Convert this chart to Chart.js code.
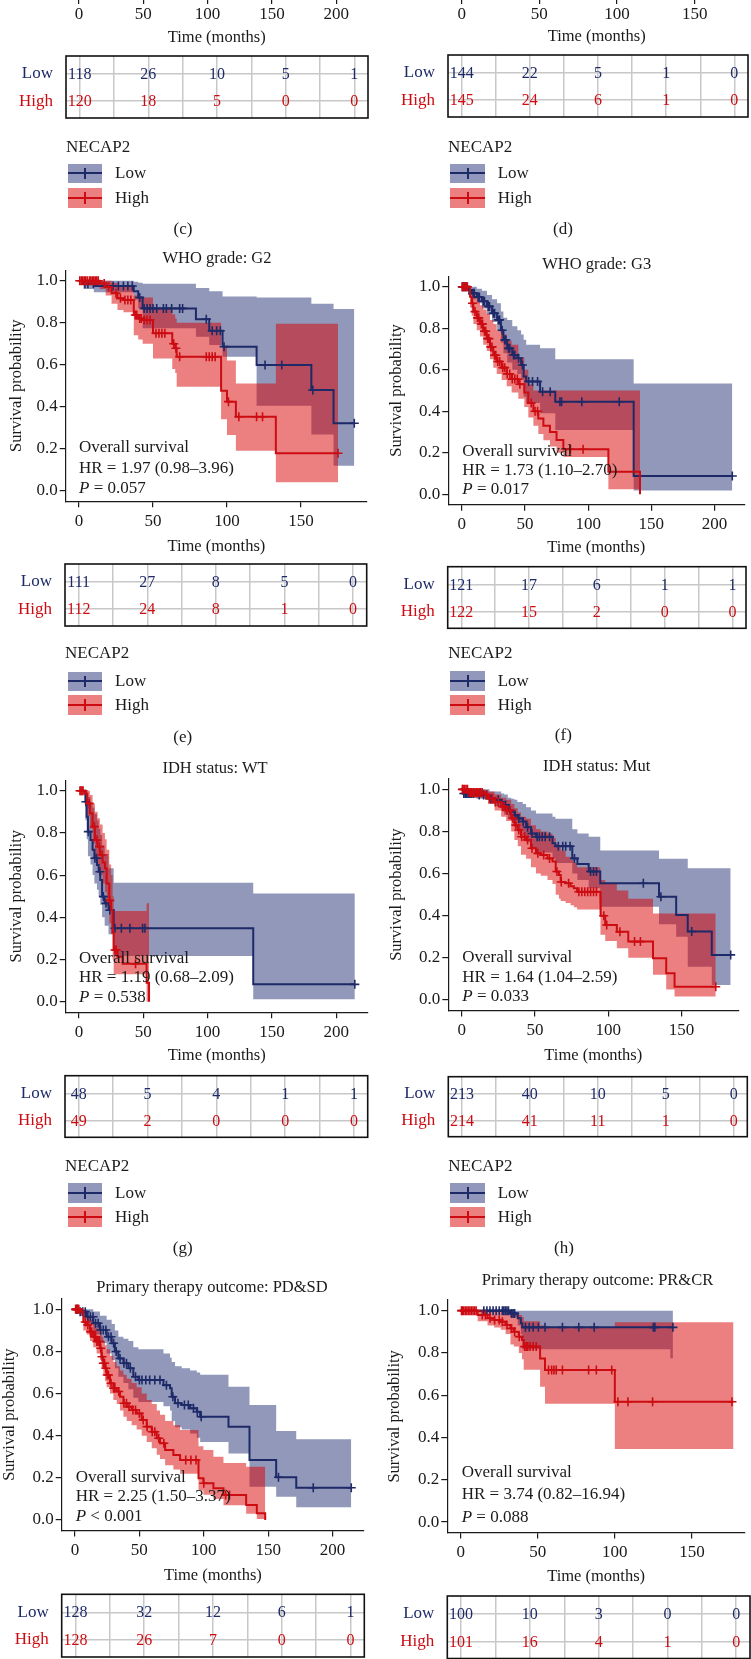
<!DOCTYPE html>
<html><head><meta charset="utf-8">
<script src="https://cdn.jsdelivr.net/npm/chart.js@4.4.1/dist/chart.umd.min.js"></script>
<style>
html,body{margin:0;padding:0;background:#fff}
body{position:relative;width:751px;height:1659px;overflow:hidden;font-family:"Liberation Serif","Times New Roman",serif;color:#1a1a1a}
canvas{position:absolute}
.t{position:absolute;white-space:nowrap;font-size:17px;line-height:20px;height:20px}
.lg{position:absolute}
.lg .h{position:absolute;left:0;right:0;top:50%;height:2px;margin-top:-1px}
.lg .v{position:absolute;left:50%;width:2px;margin-left:-1px;top:4px;bottom:4px}
</style></head><body>
<script>
// ---------- tick / table labels ----------
const yTicks = [0, 0.2, 0.4, 0.6, 0.8, 1.0];
const xTicks150 = [0, 50, 100, 150];
const xTicks200 = [0, 50, 100, 150, 200];
const riskTimes = [0, 50, 100, 150, 200];
const tableGrid = [0, 25, 50, 75, 100, 125, 150, 175, 200];

// ---------- numbers at risk ----------
const cRiskLow = [118, 26, 10, 5, 1], cRiskHigh = [120, 18, 5, 0, 0];
const dRiskLow = [144, 22, 5, 1, 0], dRiskHigh = [145, 24, 6, 1, 0];
const eRiskLow = [111, 27, 8, 5, 0], eRiskHigh = [112, 24, 8, 1, 0];
const fRiskLow = [121, 17, 6, 1, 1], fRiskHigh = [122, 15, 2, 0, 0];
const gRiskLow = [48, 5, 4, 1, 1],   gRiskHigh = [49, 2, 0, 0, 0];
const hRiskLow = [213, 40, 10, 5, 0], hRiskHigh = [214, 41, 11, 1, 0];
const iRiskLow = [128, 32, 12, 6, 1], iRiskHigh = [128, 26, 7, 0, 0];
const jRiskLow = [100, 10, 3, 0, 0], jRiskHigh = [101, 16, 4, 1, 0];

// ---------- (e) WHO grade G2 ----------
const eLowT = [0,3,10,37,40,43,79,88,97,120,157,172,186];
const eLowS = [1,0.985,0.975,0.95,0.92,0.868,0.817,0.762,0.686,0.598,0.479,0.321,0.321];
const eLowU = [1,1,1,0.995,0.99,0.985,0.965,0.95,0.925,0.92,0.89,0.865,0.865];
const eLowL = [1,0.96,0.945,0.91,0.87,0.773,0.733,0.694,0.638,0.405,0.268,0.119,0.119];
const eLowC = [4,6,9.7,23,26.6,30,33,36,41,44,46,48,50,52.5,57,59,62.6,68,70,86,90,93,95.5,98,125.7,137,158,186];
const eHighT = [0,14,18,22,26,30,37,40,43,50,63,65,66,96,100,106,133,175];
const eHighS = [1,0.987,0.97,0.94,0.916,0.908,0.837,0.82,0.813,0.75,0.70,0.678,0.638,0.476,0.424,0.352,0.178,0.178];
const eHighU = [1,1,1,0.99,0.98,0.975,0.93,0.925,0.92,0.87,0.84,0.82,0.80,0.68,0.62,0.51,0.795,0.795];
const eHighL = [1,0.96,0.93,0.89,0.86,0.85,0.74,0.72,0.70,0.63,0.58,0.56,0.495,0.34,0.265,0.19,0.04,0.04];
const eHighC = [0.5,1.5,2.5,3.5,4.5,5.5,7,8,9,10,11,12,13,17,20,25,28,31,33,35,38,39,41,42,44,46,48,52,54,56,58,64,65.5,68,86,88,90,92,101,108,120,124,175];

// ---------- (f) WHO grade G3 ----------
const fLowT = [0,5,8,12,16,20,24,28,31,33,36,40,44,47,49,51,62,74,136,214];
const fLowS = [1,0.984,0.968,0.95,0.93,0.905,0.872,0.84,0.79,0.743,0.703,0.671,0.655,0.623,0.567,0.543,0.494,0.446,0.088,0.088];
const fLowU = [1,1,1,0.99,0.98,0.96,0.94,0.92,0.88,0.85,0.84,0.81,0.79,0.77,0.745,0.72,0.703,0.65,0.534,0.534];
const fLowL = [1,0.96,0.94,0.92,0.895,0.865,0.83,0.79,0.73,0.68,0.635,0.6,0.58,0.55,0.47,0.44,0.39,0.31,0.018,0.018];
const fLowC = [0.5,1,2,3,4,6,9,10,13,14,17,18,21,22,25,26,29,30,32,34,35,37,38,41,42,45,48,53,56,60,64,70,77.7,79,95,124.6,214];
const fHighT = [0,6.6,7.9,9.2,11.9,14.5,17,19.8,22.4,25,27.7,31.6,35.6,39.5,44.8,49.5,52.7,56.7,60.6,64.6,69.8,75,80.4,116,141];
const fHighS = [1,0.952,0.92,0.88,0.85,0.82,0.785,0.75,0.71,0.67,0.64,0.61,0.58,0.555,0.53,0.49,0.44,0.40,0.365,0.33,0.30,0.262,0.217,0.109,0];
const fHighU = [1,0.99,0.97,0.95,0.94,0.91,0.89,0.87,0.84,0.82,0.79,0.77,0.74,0.72,0.66,0.6,0.53,0.5,0.5,0.5,0.5,0.5,0.5,0.5,0.5];
const fHighL = [1,0.9,0.86,0.82,0.79,0.76,0.72,0.69,0.65,0.61,0.58,0.55,0.52,0.49,0.46,0.42,0.37,0.33,0.29,0.26,0.23,0.2,0.18,0.024,0.024];
const fHighC = [0.5,1.5,2.5,3.5,4.5,8.5,10.5,12.5,13.5,15.5,16.5,18,19,20.5,21.5,23,24,26,27,28.5,30,32.5,34,36,38,40,42,44,46,55,58,60,86,96];

// ---------- (g) IDH WT ----------
const gLowT = [0,5,6,7,9,10.6,12,14,15.3,16.6,18,20,23,27,135.5,214.5];
const gLowS = [1,0.948,0.877,0.806,0.766,0.72,0.68,0.648,0.616,0.577,0.498,0.466,0.434,0.348,0.082,0.082];
const gLowU = [1,1,0.99,0.97,0.94,0.92,0.89,0.86,0.82,0.79,0.74,0.7,0.632,0.564,0.513,0.513];
const gLowL = [1,0.86,0.77,0.69,0.65,0.6,0.56,0.53,0.5,0.46,0.4,0.36,0.32,0.216,0.011,0.011];
const gLowC = [5.4,7.3,12.4,13.7,16.3,19,21,24,28,33,39.6,49.5,51.3,214.5];
const gHighT = [0,4.7,6.5,8.5,10.6,12.4,14.5,16.3,18.4,20.2,21.5,23.6,25,26.2,27,30,34,52.6,54.5];
const gHighS = [1,0.987,0.94,0.893,0.83,0.766,0.735,0.695,0.66,0.632,0.56,0.48,0.434,0.33,0.245,0.213,0.18,0.09,0];
const gHighU = [1,1,1,0.98,0.94,0.9,0.87,0.84,0.8,0.77,0.72,0.65,0.6,0.5,0.43,0.43,0.43,0.466,0.466];
const gHighL = [1,0.95,0.88,0.82,0.75,0.68,0.64,0.6,0.56,0.52,0.45,0.37,0.32,0.2,0.13,0.13,0.13,0.0,0];
const gHighC = [0.8,1.6,2.4,3.2,8,12,14,16,18,24,28,29,44];

// ---------- (h) IDH Mut ----------
const hLowT = [0,1,10,19,22.5,27,29,31.5,33.8,36,38,41.7,44,47.3,50.7,62,64,75.5,79,86.7,94.6,134.7,146.4,154.3,170.7,183.6];
const hLowS = [1,0.98,0.973,0.957,0.95,0.94,0.926,0.90,0.894,0.878,0.862,0.847,0.82,0.79,0.775,0.744,0.73,0.672,0.645,0.61,0.554,0.49,0.403,0.325,0.214,0.214];
const hLowU = [1,1,1,0.99,0.99,0.98,0.975,0.96,0.955,0.95,0.94,0.93,0.915,0.9,0.885,0.87,0.86,0.81,0.79,0.775,0.71,0.67,0.67,0.625,0.625,0.625];
const hLowL = [1,0.96,0.955,0.93,0.92,0.9,0.88,0.86,0.85,0.82,0.8,0.78,0.75,0.72,0.7,0.67,0.65,0.6,0.57,0.53,0.443,0.36,0.3,0.158,0.071,0.071];
const hLowC = [1.5,2.5,3.5,4.5,5.5,6.5,8,12,15,17,20,25,30,33,36.5,39,42,45,48,51.5,53,55,57,60,66,69,71,74,77,88,90,92,124,136,157,183.6];
const hHighT = [0,4.5,15.8,18,22.5,27,30.4,33.8,36,38.3,40.5,44,47.3,50.7,54,58.6,62,64.2,66.4,67.6,71,74.3,76.6,78.8,94.6,95,98,105.9,113.7,130.6,139.6,145.3,173.4];
const hHighS = [1,0.985,0.975,0.957,0.94,0.918,0.9,0.862,0.83,0.807,0.775,0.76,0.72,0.696,0.688,0.672,0.657,0.61,0.593,0.56,0.554,0.54,0.53,0.514,0.483,0.40,0.356,0.324,0.277,0.198,0.127,0.063,0.063];
const hHighU = [1,1,0.995,0.99,0.975,0.96,0.95,0.93,0.91,0.89,0.87,0.86,0.83,0.81,0.8,0.79,0.77,0.74,0.73,0.71,0.68,0.665,0.65,0.63,0.6,0.57,0.55,0.52,0.48,0.41,0.41,0.41,0.41];
const hHighL = [1,0.96,0.95,0.93,0.9,0.87,0.85,0.8,0.76,0.73,0.69,0.67,0.63,0.6,0.59,0.57,0.55,0.5,0.48,0.47,0.46,0.45,0.44,0.43,0.40,0.31,0.28,0.245,0.2,0.12,0.05,0.016,0.016];
const hHighC = [0.5,1,2,3,4,5,6,7,8,9,10,11,12,13,14,17,19,21,23,25,28,29,31,33,35,37,39,41,43,45,48,52,56,60,65,68,73,80,82,84,86,88,90,92,97,99,108,118,122,173.4];

// ---------- (i) Primary therapy outcome PD&SD ----------
const iLowT = [0,3.9,9,14.2,19.4,24.6,28.5,31,33.7,37.6,41.5,45.3,49.2,68.7,73.8,75.1,77.7,82.9,89.4,94.6,97.2,119.2,135.5,156.2,171.8,214.5];
const iLowS = [1,0.989,0.965,0.934,0.902,0.87,0.839,0.8,0.767,0.744,0.72,0.68,0.665,0.64,0.625,0.585,0.554,0.546,0.53,0.514,0.49,0.443,0.285,0.203,0.153,0.153];
const iLowU = [1,1,1,0.99,0.97,0.95,0.93,0.9,0.87,0.86,0.85,0.82,0.81,0.79,0.77,0.75,0.73,0.72,0.71,0.7,0.69,0.633,0.546,0.422,0.383,0.383];
const iLowL = [1,0.97,0.93,0.88,0.84,0.79,0.76,0.72,0.68,0.65,0.62,0.58,0.56,0.54,0.52,0.47,0.44,0.43,0.41,0.39,0.37,0.316,0.158,0.11,0.06,0.06];
const iLowC = [1,2,4,6,8,10,12,14,16,18,20,22,24,26,28,30,32,35,38,40,43,47,50,52,55,58,62,66,71,76,80,85,88,92,95,98,158,185,214.5];
const iHighT = [0,3.9,6.5,9.1,11.7,14.2,16.8,19.4,20.7,22,23.3,24.6,27.2,29.8,32.4,35,37.6,40.2,44,47.9,51.8,55.7,59.6,63.5,66,70,76.4,81.6,95.9,99.7,107.5,115.3,132.9,141.2,147.7];
const iHighS = [1,0.989,0.94,0.926,0.894,0.87,0.847,0.815,0.775,0.744,0.72,0.688,0.649,0.625,0.61,0.585,0.554,0.538,0.522,0.506,0.475,0.443,0.419,0.388,0.364,0.332,0.309,0.285,0.198,0.174,0.15,0.119,0.071,0.032,0];
const iHighU = [1,1,0.99,0.97,0.95,0.93,0.91,0.89,0.87,0.85,0.83,0.81,0.78,0.75,0.73,0.71,0.69,0.67,0.65,0.63,0.6,0.57,0.55,0.52,0.5,0.47,0.45,0.427,0.35,0.332,0.30,0.27,0.253,0.253,0.253];
const iHighL = [1,0.97,0.9,0.88,0.85,0.82,0.79,0.76,0.72,0.69,0.66,0.63,0.6,0.57,0.55,0.52,0.49,0.47,0.45,0.43,0.4,0.37,0.34,0.31,0.29,0.26,0.24,0.22,0.14,0.12,0.1,0.07,0.03,0.005,0];
const iHighC = [0.5,1,1.5,2,2.5,3,8,10,12,13,15,16,17,18,19,20,21,22,23,24,25,26,28,30,31,34,38,40,42,45,47,50,53,56,60,62,65,69,86,90,94,100,117,120];

// ---------- (j) Primary therapy outcome PR&CR ----------
const jLowT = [0,32,37,39,40,136,137.7];
const jLowS = [1,0.987,0.964,0.94,0.921,0.921,0.921];
const jLowU = [1,1,1,1,1,1,1];
const jLowL = [1,0.97,0.93,0.89,0.817,0.775,0.775];
const jLowC = [15,17,19,21,23,25,27,28,29,30,31,33,34,35,42,44.5,47,50.4,54.7,66,76.6,86.6,125,126,137.7];
const jHighT = [0,11,17.4,21.7,26,29.1,32.3,34.5,37.7,39.8,40.9,51.5,54.7,100,177];
const jHighS = [1,0.98,0.964,0.956,0.948,0.932,0.916,0.9,0.877,0.861,0.83,0.774,0.719,0.569,0.569];
const jHighU = [1,1,1,1,1,1,0.995,0.99,0.98,0.97,0.95,0.93,0.92,0.945,0.945];
const jHighL = [1,0.95,0.93,0.92,0.91,0.89,0.84,0.83,0.8,0.77,0.72,0.64,0.56,0.345,0.345];
const jHighC = [0.5,1,2,3,4,5,6,7,8,9,10,14,16,19,22,25,27,30,33,35,38,41.5,42.5,43.5,45,47,49,57,59,60.5,62,66,83,88,98,102,108.5,124.5,176];

// ---------- styling ----------
const NAVY = '#1e2a68', RED = '#cc0c12', INK = '#1a1a1a';
const BAND_LOW = 'rgba(36,49,118,0.5)', BAND_HIGH = 'rgba(218,0,0,0.5)';
const BOX_LOW = 'rgb(145,152,187)', BOX_HIGH = 'rgb(236,128,128)';
const FONT = '"Liberation Serif", "Times New Roman", serif';
Chart.defaults.font.family = FONT;
Chart.defaults.font.size = 17;
Chart.defaults.color = INK;
const TITLE_FONT = {size: 16.5};

function steps(T, V) {
  const p = [];
  for (let i = 0; i < T.length; i++) {
    if (i > 0) p.push({x: T[i], y: V[i - 1]});
    p.push({x: T[i], y: V[i]});
  }
  return p;
}
function at(T, V, t) {
  let v = V[0];
  for (let i = 0; i < T.length; i++) if (T[i] <= t) v = V[i];
  return v;
}
function addCanvas(left, top, w, h) {
  const c = document.createElement('canvas');
  c.width = w; c.height = h;
  c.style.left = left + 'px'; c.style.top = top + 'px';
  c.style.width = w + 'px'; c.style.height = h + 'px';
  document.body.appendChild(c);
  return c;
}
function text(html, x, y, align, extra) {
  const d = document.createElement('div');
  d.className = 't';
  d.innerHTML = html;
  d.style.top = (y - 10) + 'px';
  if (align === 'center') { d.style.left = x + 'px'; d.style.transform = 'translateX(-50%)'; }
  else d.style.left = x + 'px';
  if (extra) d.style.cssText += extra;
  document.body.appendChild(d);
}
function axisStyle(tl) {
  return {
    grid: {display: true, drawOnChartArea: false, drawTicks: true, tickLength: tl || 6, color: INK, lineWidth: 1.2},
    border: {display: true, color: INK, width: 1.2}
  };
}

function kmChart(cfg) {
  const top = Math.floor(cfg.canvasTop);
  const bottom = Math.round(cfg.xTitleY + 9.9);
  const W = cfg.colW, H = bottom - top;
  const c = addCanvas(cfg.colL, top, W, H);
  const lo = cfg.low, hi = cfg.high;
  const band = (T, V, col, fill, order) => ({data: steps(T, V), fill: fill, backgroundColor: col,
    borderColor: 'rgba(0,0,0,0)', borderWidth: 0, pointRadius: 0, tension: 0, order: order});
  const line = (g, col, order) => ({data: steps(g.T, g.S), fill: false, borderColor: col, borderWidth: 2,
    pointRadius: 0, tension: 0, order: order});
  const cens = (g, col, order) => ({data: g.C.map(t => ({x: t, y: at(g.T, g.S, t)})), showLine: false,
    pointStyle: 'cross', pointRadius: 4.5, pointBorderWidth: 1.6, borderColor: col, pointBorderColor: col,
    backgroundColor: col, order: order});
  const ax = axisStyle(), ay = axisStyle();
  new Chart(c, {
    type: 'line',
    data: {datasets: [
      band(lo.T, lo.U, BAND_LOW, '+1', 8), band(lo.T, lo.L, BAND_LOW, false, 8),
      band(hi.T, hi.U, BAND_HIGH, '+1', 6), band(hi.T, hi.L, BAND_HIGH, false, 6),
      line(lo, NAVY, 3), cens(lo, NAVY, 3),
      line(hi, RED, 1), cens(hi, RED, 1)
    ]},
    options: {
      responsive: false, animation: false, events: [], devicePixelRatio: 1,
      layout: {padding: {left: 0, top: cfg.plotT - top, right: cfg.colL + W - cfg.plotR, bottom: 0}},
      plugins: {legend: {display: false}, tooltip: {enabled: false}},
      scales: {
        x: {type: 'linear', min: cfg.xmin, max: cfg.xmax, grid: ax.grid, border: ax.border,
          afterBuildTicks: s => { s.ticks = cfg.xticks.map(v => ({value: v})); },
          afterFit: s => { s.height = bottom - cfg.plotB; },
          ticks: {padding: 4, color: INK, autoSkip: false, maxRotation: 0, callback: v => String(v)},
          title: {display: true, text: 'Time (months)', color: INK, font: TITLE_FONT, padding: {top: 0, bottom: 0}}},
        y: {type: 'linear', min: -0.05, max: 1.05, grid: ay.grid, border: ay.border,
          afterBuildTicks: s => { s.ticks = yTicks.map(v => ({value: v})); },
          afterFit: s => { s.width = cfg.plotL - cfg.colL; },
          ticks: {padding: 2, color: INK, callback: v => Number(v).toFixed(1)},
          title: {display: true, text: 'Survival probability', color: INK, font: TITLE_FONT,
            padding: {top: Math.max(0, cfg.yTitleX - cfg.colL - 9.9), bottom: 0}}}
      }
    }
  });
  text(cfg.title, cfg.titleX, cfg.titleY, 'center', 'font-size:16.5px');
  text('Overall survival', cfg.hrX, cfg.hrY[0], 'left');
  text(cfg.hr, cfg.hrX, cfg.hrY[1], 'left');
  text(cfg.p, cfg.hrX, cfg.hrY[2], 'left');
}

const riskTextPlugin = {
  id: 'riskText',
  afterDatasetsDraw(chart) {
    const ctx = chart.ctx;
    ctx.save();
    ctx.font = '16px ' + FONT;
    ctx.textAlign = 'center';
    ctx.textBaseline = 'middle';
    chart.data.datasets.forEach((ds, di) => {
      const meta = chart.getDatasetMeta(di);
      ctx.fillStyle = ds.textColor;
      meta.data.forEach((pt, i) => ctx.fillText(String(ds.data[i].v), pt.x, pt.y + 1));
    });
    const a = chart.chartArea;
    ctx.strokeStyle = '#111';
    ctx.lineWidth = 1.6;
    ctx.strokeRect(a.left, a.top, a.right - a.left, a.bottom - a.top);
    ctx.restore();
  }
};

function riskTable(cfg) {
  const M = 36;
  const top = Math.floor(cfg.boxT) - M;
  const H = Math.ceil(cfg.boxB) + M - top;
  const c = addCanvas(cfg.colL, top, cfg.colW, H);
  new Chart(c, {
    type: 'line',
    data: {datasets: [
      {data: riskTimes.map((t, i) => ({x: t, y: 1, v: cfg.low[i]})), showLine: false, pointRadius: 0, textColor: NAVY},
      {data: riskTimes.map((t, i) => ({x: t, y: 0, v: cfg.high[i]})), showLine: false, pointRadius: 0, textColor: RED}
    ]},
    options: {
      responsive: false, animation: false, events: [], devicePixelRatio: 1,
      layout: {padding: {left: 0, top: cfg.boxT - top, bottom: top + H - cfg.boxB, right: cfg.colL + cfg.colW - cfg.boxR}},
      plugins: {legend: {display: false}, tooltip: {enabled: false}},
      scales: {
        x: {type: 'linear', min: -10, max: 210,
          afterBuildTicks: s => { s.ticks = tableGrid.map(v => ({value: v})); },
          afterFit: s => { s.height = 0; },
          ticks: {display: false}, grid: {color: '#c8c8c8', lineWidth: 1.5, drawTicks: false}, border: {display: false}},
        y: {type: 'linear', min: -0.62, max: 1.65,
          afterBuildTicks: s => { s.ticks = [{value: 0}, {value: 1}]; },
          afterFit: s => { s.width = cfg.boxL - cfg.colL; },
          ticks: {padding: 13, font: {size: 17}, callback: v => (v === 1 ? 'Low' : 'High'),
            color: ctx => (ctx.tick && ctx.tick.value === 1 ? NAVY : RED)},
          grid: {color: '#c8c8c8', lineWidth: 1.5, drawTicks: false}, border: {display: false}}
      }
    },
    plugins: [riskTextPlugin]
  });
}

function topAxis(cfg) {
  const top = -40, bottom = Math.round(cfg.titleY + 9.9);
  const H = bottom - top;
  const c = addCanvas(cfg.colL, top, cfg.colW, H);
  const ax = axisStyle(7);
  new Chart(c, {
    type: 'line', data: {datasets: []},
    options: {
      responsive: false, animation: false, events: [], devicePixelRatio: 1,
      layout: {padding: {left: cfg.plotL - cfg.colL, right: cfg.colL + cfg.colW - cfg.plotR, top: 5, bottom: 0}},
      plugins: {legend: {display: false}, tooltip: {enabled: false}},
      scales: {
        x: {type: 'linear', min: cfg.xmin, max: cfg.xmax, grid: ax.grid, border: ax.border,
          afterBuildTicks: s => { s.ticks = cfg.xticks.map(v => ({value: v})); },
          afterFit: s => { s.height = bottom - cfg.axisY; },
          ticks: {padding: 0, color: INK, autoSkip: false, maxRotation: 0, callback: v => String(v)},
          title: {display: true, text: 'Time (months)', color: INK, font: TITLE_FONT, padding: {top: 0, bottom: 0}}},
        y: {display: false, min: 0, max: 1}
      }
    }
  });
}

function legendBox(x, top, w, h, fillCol, lineCol) {
  const d = document.createElement('div');
  d.className = 'lg';
  d.style.cssText = `left:${x}px;top:${top}px;width:${w}px;height:${h}px;background:${fillCol}`;
  d.innerHTML = `<div class="h" style="background:${lineCol}"></div><div class="v" style="background:${lineCol}"></div>`;
  document.body.appendChild(d);
}
function legend(cfg) {
  text('NECAP2', cfg.nameX, cfg.nameY, 'left');
  legendBox(cfg.boxX, cfg.lowTop, cfg.boxW, 19.5, BOX_LOW, NAVY);
  legendBox(cfg.boxX, cfg.highTop, cfg.boxW, 19.5, BOX_HIGH, RED);
  text('Low', cfg.labX, cfg.lowTop + 9.5, 'left');
  text('High', cfg.labX, cfg.highTop + 9.5, 'left');
}

// ---------- top strip (c) / (d) ----------
topAxis({colL: 0, colW: 375, plotL: 65.7, plotR: 367.7, xmin: -10.3, xmax: 224.5, xticks: xTicks200, axisY: -3, titleY: 38});
topAxis({colL: 375, colW: 376, plotL: 448.3, plotR: 745, xmin: -8.6, xmax: 182.4, xticks: xTicks150, axisY: -3, titleY: 37});
riskTable({colL: 0, colW: 375, boxL: 66, boxR: 368, boxT: 56, boxB: 118, low: cRiskLow, high: cRiskHigh});
riskTable({colL: 375, colW: 376, boxL: 448, boxR: 748, boxT: 55, boxB: 117, low: dRiskLow, high: dRiskHigh});
legend({nameX: 66, nameY: 147, boxX: 68, boxW: 34, lowTop: 163.5, highTop: 188, labX: 115});
legend({nameX: 448, nameY: 147, boxX: 450, boxW: 35, lowTop: 163.5, highTop: 188, labX: 497.7});
text('(c)', 183, 229, 'center');
text('(d)', 563, 229, 'center');

// ---------- (e) / (f) ----------
kmChart({colL: 0, colW: 375, canvasTop: 240, plotT: 270.2, plotB: 501.2, plotL: 65.7, plotR: 367,
  xmin: -9, xmax: 194.6, xticks: xTicks150, xTitleY: 547, yTitleX: 17,
  low: {T: eLowT, S: eLowS, U: eLowU, L: eLowL, C: eLowC}, high: {T: eHighT, S: eHighS, U: eHighU, L: eHighL, C: eHighC},
  title: 'WHO grade: G2', titleX: 217, titleY: 258,
  hrX: 79, hrY: [447, 468, 487.5], hr: 'HR = 1.97 (0.98–3.96)', p: '<i>P</i> = 0.057'});
kmChart({colL: 375, colW: 376, canvasTop: 240, plotT: 276.3, plotB: 504.7, plotL: 448.3, plotR: 744.3,
  xmin: -10.6, xmax: 223.5, xticks: xTicks200, xTitleY: 548.3, yTitleX: 396.7,
  low: {T: fLowT, S: fLowS, U: fLowU, L: fLowL, C: fLowC}, high: {T: fHighT, S: fHighS, U: fHighU, L: fHighL, C: fHighC},
  title: 'WHO grade: G3', titleX: 596.7, titleY: 264,
  hrX: 462.3, hrY: [450.7, 470, 489.3], hr: 'HR = 1.73 (1.10–2.70)', p: '<i>P</i> = 0.017'});
riskTable({colL: 0, colW: 375, boxL: 65, boxR: 366.7, boxT: 564, boxB: 626, low: eRiskLow, high: eRiskHigh});
riskTable({colL: 375, colW: 376, boxL: 447.7, boxR: 746, boxT: 566.7, boxB: 628.3, low: fRiskLow, high: fRiskHigh});
legend({nameX: 65, nameY: 653.3, boxX: 67.7, boxW: 34, lowTop: 671.5, highTop: 695, labX: 115});
legend({nameX: 448.3, nameY: 653.3, boxX: 450, boxW: 35, lowTop: 671, highTop: 695, labX: 497.7});
text('(e)', 182.7, 736.7, 'center');
text('(f)', 563.3, 735, 'center');

// ---------- (g) / (h) ----------
kmChart({colL: 0, colW: 375, canvasTop: 760, plotT: 780.2, plotB: 1012.2, plotL: 65.7, plotR: 367.7,
  xmin: -10.3, xmax: 224.5, xticks: xTicks200, xTitleY: 1056, yTitleX: 16.7,
  low: {T: gLowT, S: gLowS, U: gLowU, L: gLowL, C: gLowC}, high: {T: gHighT, S: gHighS, U: gHighU, L: gHighL, C: gHighC},
  title: 'IDH status: WT', titleX: 215, titleY: 768.3,
  hrX: 79, hrY: [958.3, 977.3, 996.7], hr: 'HR = 1.19 (0.68–2.09)', p: '<i>P</i> = 0.538'});
kmChart({colL: 375, colW: 376, canvasTop: 760, plotT: 778.8, plotB: 1010.5, plotL: 448.3, plotR: 738.3,
  xmin: -9.1, xmax: 188.8, xticks: xTicks150, xTitleY: 1056, yTitleX: 396.7,
  low: {T: hLowT, S: hLowS, U: hLowU, L: hLowL, C: hLowC}, high: {T: hHighT, S: hHighS, U: hHighU, L: hHighL, C: hHighC},
  title: 'IDH status: Mut', titleX: 596.7, titleY: 766,
  hrX: 462.3, hrY: [957.3, 976.7, 996], hr: 'HR = 1.64 (1.04–2.59)', p: '<i>P</i> = 0.033'});
riskTable({colL: 0, colW: 375, boxL: 65, boxR: 367.7, boxT: 1075.7, boxB: 1137.3, low: gRiskLow, high: gRiskHigh});
riskTable({colL: 375, colW: 376, boxL: 448.3, boxR: 747.3, boxT: 1076.7, boxB: 1136.7, low: hRiskLow, high: hRiskHigh});
legend({nameX: 65, nameY: 1166, boxX: 68, boxW: 34, lowTop: 1183.3, highTop: 1207, labX: 115});
legend({nameX: 448.3, nameY: 1166, boxX: 450, boxW: 35, lowTop: 1183.3, highTop: 1207, labX: 497.7});
text('(g)', 182.7, 1248.3, 'center');
text('(h)', 564, 1248.3, 'center');

// ---------- (i) / (j) ----------
kmChart({colL: 0, colW: 375, canvasTop: 1280, plotT: 1298.8, plotB: 1530.5, plotL: 61.7, plotR: 364,
  xmin: -10.3, xmax: 224.4, xticks: xTicks200, xTitleY: 1575.7, yTitleX: 10,
  low: {T: iLowT, S: iLowS, U: iLowU, L: iLowL, C: iLowC}, high: {T: iHighT, S: iHighS, U: iHighU, L: iHighL, C: iHighC},
  title: 'Primary therapy outcome: PD&amp;SD', titleX: 212, titleY: 1286.7,
  hrX: 75.7, hrY: [1477.3, 1496, 1515.7], hr: 'HR = 2.25 (1.50–3.37)', p: '<i>P</i> &lt; 0.001'});
kmChart({colL: 375, colW: 376, canvasTop: 1280, plotT: 1300.1, plotB: 1532.6, plotL: 447.3, plotR: 750,
  xmin: -8.7, xmax: 184.4, xticks: xTicks150, xTitleY: 1577.3, yTitleX: 395,
  low: {T: jLowT, S: jLowS, U: jLowU, L: jLowL, C: jLowC}, high: {T: jHighT, S: jHighS, U: jHighU, L: jHighL, C: jHighC},
  title: 'Primary therapy outcome: PR&amp;CR', titleX: 597.5, titleY: 1280,
  hrX: 461.7, hrY: [1471.7, 1494, 1516.7], hr: 'HR = 3.74 (0.82–16.94)', p: '<i>P</i> = 0.088'});
riskTable({colL: 0, colW: 375, boxL: 61.7, boxR: 364.3, boxT: 1594.3, boxB: 1657, low: iRiskLow, high: iRiskHigh});
riskTable({colL: 375, colW: 376, boxL: 447.3, boxR: 750, boxT: 1596, boxB: 1658.5, low: jRiskLow, high: jRiskHigh});
</script>
</body></html>
